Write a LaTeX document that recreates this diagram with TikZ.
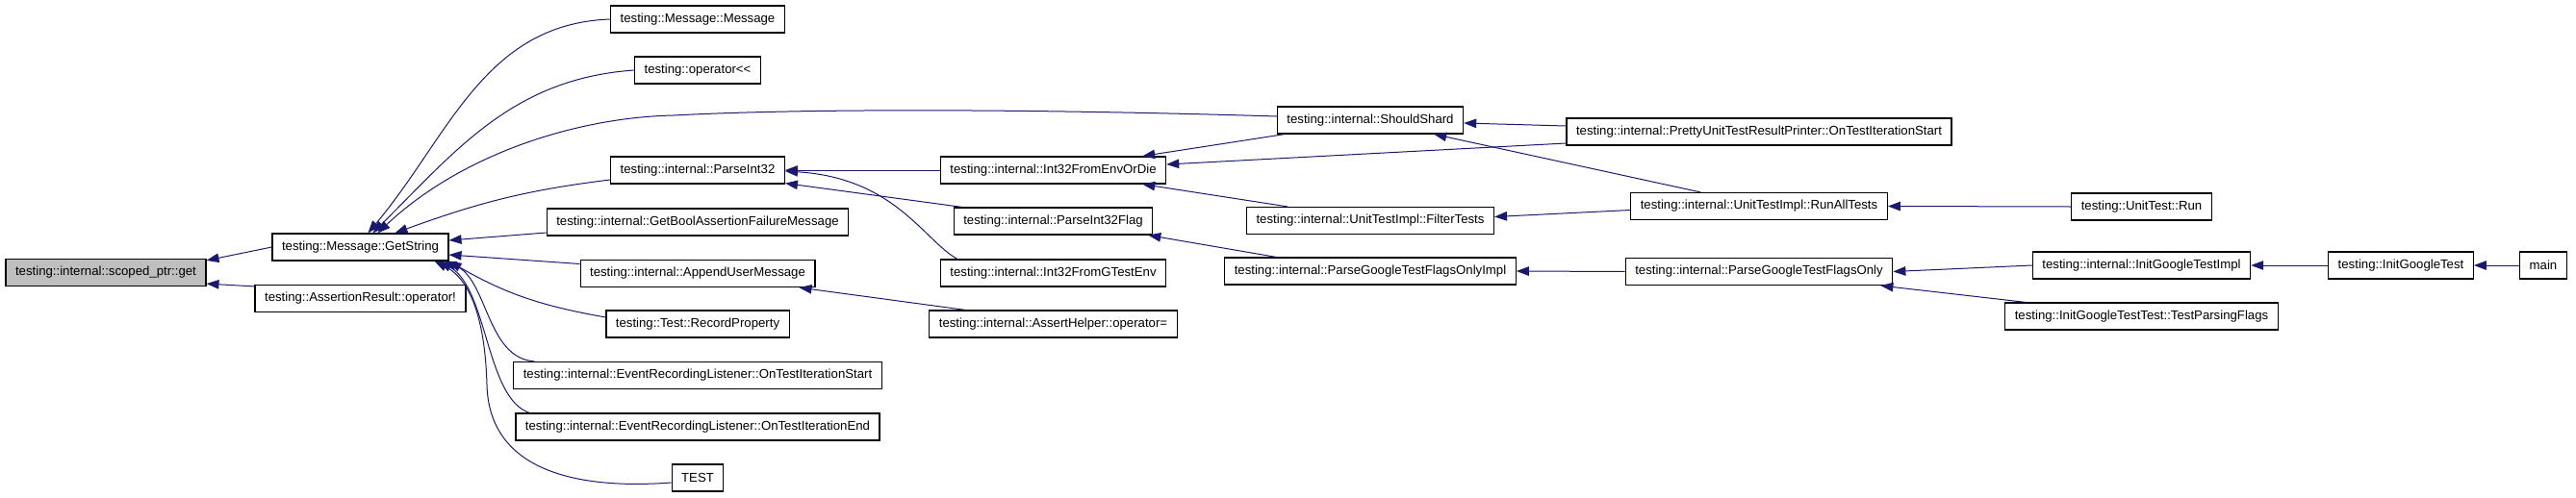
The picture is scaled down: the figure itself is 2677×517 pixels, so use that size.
\documentclass[tikz,border=0pt]{standalone}
\usepackage{fontspec}
\setmainfont{Liberation Sans}[Ligatures=TeXOff]
\usepackage{xcolor}
\usetikzlibrary{arrows.meta}
\definecolor{callblue}{HTML}{191970}
\definecolor{curgray}{HTML}{BFBFBF}
\tikzset{
  fn/.style={draw, line width=1.2pt, fill=white, minimum height=28pt,
             inner xsep=10pt, inner ysep=0pt, font=\fontsize{13.2}{15}\selectfont},
  cur/.style={fn, fill=curgray},
  call/.style={draw=callblue, line width=1pt, -{Triangle[length=13pt,width=9.5pt]}},
}

\begin{document}
\begin{tikzpicture}[x=1pt, y=-1pt]
  \useasboundingbox (0,0) rectangle (2677,517);
  \node[cur] (get) at (110,283.5) {testing::internal::scoped\_ptr::get};
  \node[fn] (getstr) at (374.5,257) {testing::Message::GetString};
  \node[fn] (notop) at (374.5,310.5) {testing::AssertionResult::operator!};
  \node[fn] (msgctor) at (725,20) {testing::Message::Message};
  \node[fn] (shiftop) at (725,73) {testing::operator<<};
  \node[fn] (parseint) at (725,177) {testing::internal::ParseInt32};
  \node[fn] (boolfail) at (725,231) {testing::internal::GetBoolAssertionFailureMessage};
  \node[fn] (appendmsg) at (725,284.5) {testing::internal::AppendUserMessage};
  \node[fn] (recprop) at (725,337) {testing::Test::RecordProperty};
  \node[fn] (erlstart) at (725,390.5) {testing::internal::EventRecordingListener::OnTestIterationStart};
  \node[fn] (erlend) at (725,444) {testing::internal::EventRecordingListener::OnTestIterationEnd};
  \node[fn] (test) at (725,497) {TEST};
  \node[fn] (envordie) at (1094.5,177) {testing::internal::Int32FromEnvOrDie};
  \node[fn] (parseflag) at (1094.5,230) {testing::internal::ParseInt32Flag};
  \node[fn] (gtestenv) at (1094.5,284) {testing::internal::Int32FromGTestEnv};
  \node[fn] (assignop) at (1094.5,337) {testing::internal::AssertHelper::operator=};
  \node[fn] (shard) at (1424,125) {testing::internal::ShouldShard};
  \node[fn] (filter) at (1424,229.5) {testing::internal::UnitTestImpl::FilterTests};
  \node[fn] (flagsimpl) at (1424,282) {testing::internal::ParseGoogleTestFlagsOnlyImpl};
  \node[fn] (pretty) at (1828,137) {testing::internal::PrettyUnitTestResultPrinter::OnTestIterationStart};
  \node[fn] (runall) at (1828,214.5) {testing::internal::UnitTestImpl::RunAllTests};
  \node[fn] (flagsonly) at (1828,282.5) {testing::internal::ParseGoogleTestFlagsOnly};
  \node[fn] (utrun) at (2225.5,215) {testing::UnitTest::Run};
  \node[fn] (initimpl) at (2225.5,276) {testing::internal::InitGoogleTestImpl};
  \node[fn] (parsing) at (2225.5,329) {testing::InitGoogleTestTest::TestParsingFlags};
  \node[fn] (initgt) at (2495,276) {testing::InitGoogleTest};
  \node[fn] (main) at (2643,276) {main};

  \draw[call] (getstr.west) -- ([yshift=-2pt]get.north east);
  \draw[call] ([yshift=-2pt]notop.north west) -- ([yshift=3pt]get.south east);
  \draw[call] (msgctor.west) to[out=182,in=50] ([xshift=100pt]getstr.north west);
  \draw[call] (shiftop.west) to[out=184,in=45] ([xshift=105pt]getstr.north west);
  \draw[call] ([yshift=4pt]shard.west) .. controls (1100,114) and (850,112) .. (700,120)
    .. controls (600,122) and (480,160) .. ([xshift=110pt]getstr.north west);
  \draw[call] ([yshift=-10pt]parseint.west) to[out=187,in=20] ([xshift=128pt]getstr.north west);
  \draw[call] ([yshift=-11pt]boolfail.west) -- ([yshift=7pt]getstr.east);
  \draw[call] ([yshift=10pt]appendmsg.west) -- ([yshift=-8pt]getstr.east);
  \draw[call] ([yshift=7pt]recprop.west) to[out=170,in=-30] (getstr.south east);
  \draw[call] ([xshift=22pt]erlstart.north west) .. controls (505,372) and (507,290) .. ([xshift=-5pt]getstr.south east);
  \draw[call] ([xshift=15pt]erlend.north west) .. controls (505,415) and (507,300) .. ([xshift=-10pt]getstr.south east);
  \draw[call] ([yshift=-5pt]test.west) .. controls (590,510) and (508,485) .. (506,400)
    .. controls (504,330) and (488,290) .. ([xshift=-15pt]getstr.south east);
  \draw[call] (envordie.west) -- (parseint.east);
  \draw[call] ([xshift=9pt]parseflag.north west) -- ([yshift=1pt]parseint.south east);
  \draw[call] ([xshift=18pt]gtestenv.north west) .. controls (960,250) and (930,185) .. ([yshift=-1pt]parseint.east);
  \draw[call] ([xshift=38pt]assignop.north west) -- ([xshift=-17pt]appendmsg.south east);
  \draw[call] ([xshift=8pt]shard.south west) -- ([xshift=-25pt]envordie.north east);
  \draw[call] ([yshift=-12pt]pretty.west) -- ([yshift=6pt]envordie.east);
  \draw[call] ([xshift=43pt]filter.north west) -- ([xshift=-25pt]envordie.south east);
  \draw[call] ([xshift=54pt]flagsimpl.north west) -- ([xshift=-5pt]parseflag.south east);
  \draw[call] ([yshift=6pt]pretty.west) -- ([yshift=-3pt]shard.east);
  \draw[call] ([xshift=73pt]runall.north west) -- ([xshift=-31pt]shard.south east);
  \draw[call] ([yshift=-4pt]runall.west) -- ([yshift=4pt]filter.east);
  \draw[call] (flagsonly.west) -- (flagsimpl.east);
  \draw[call] (utrun.west) -- (runall.east);
  \draw[call] (initimpl.west) -- (flagsonly.east);
  \draw[call] ([xshift=22pt]parsing.north west) -- ([xshift=-13pt]flagsonly.south east);
  \draw[call] (initgt.west) -- (initimpl.east);
  \draw[call] (main.west) -- (initgt.east);
\end{tikzpicture}
\end{document}
